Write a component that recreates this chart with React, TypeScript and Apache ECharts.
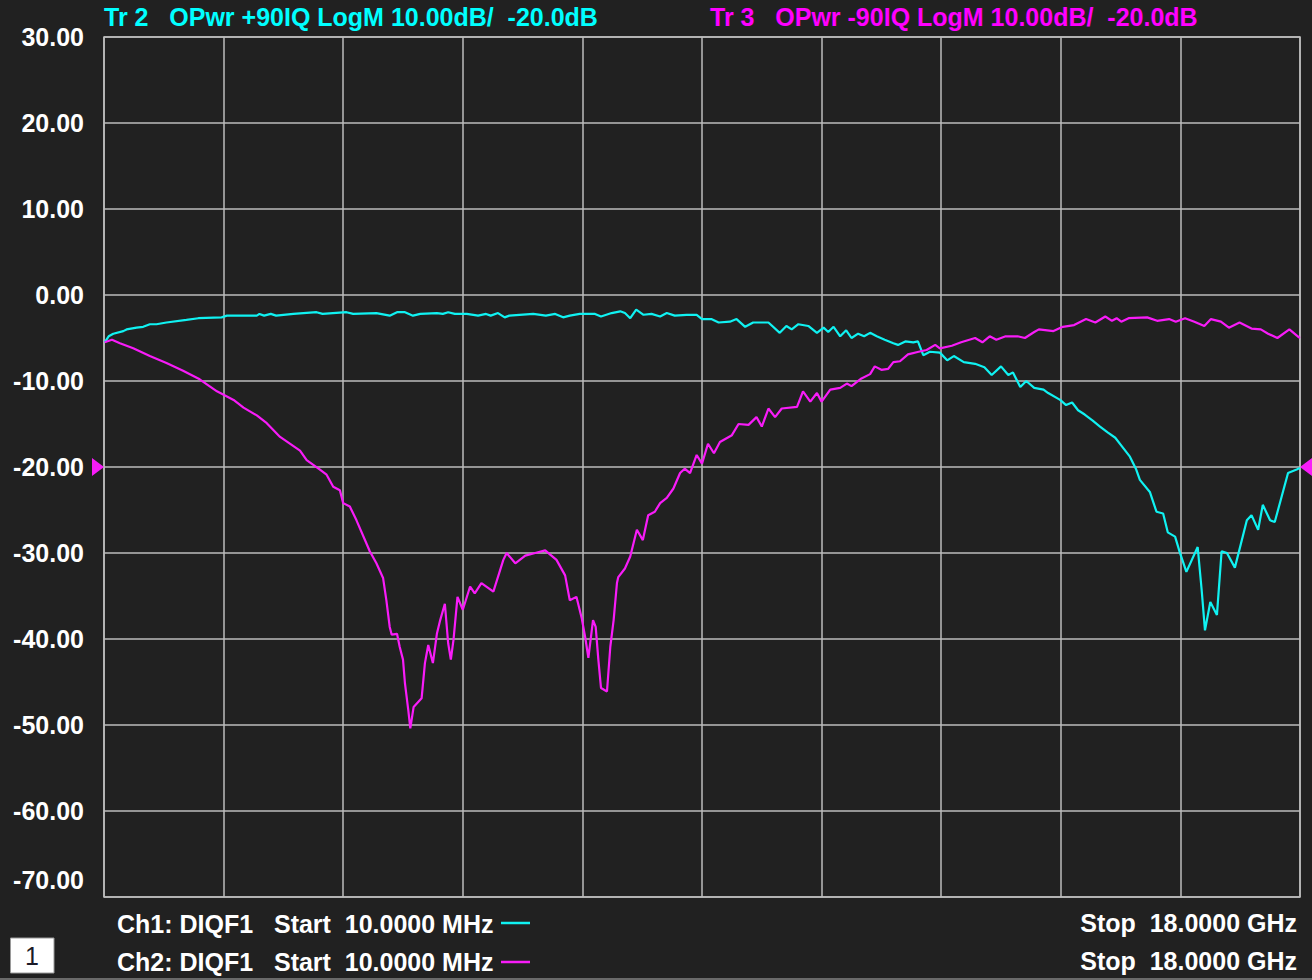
import React, { useEffect, useRef } from "react";
import * as echarts from "echarts";

// Sweep: 10 MHz .. 18 GHz, 10 dB/div, reference -20 dB
const X_MIN_GHZ = 0;
const X_MAX_GHZ = 18;
const X_DIV_GHZ = 1.8;
const Y_MIN_DB = -70;
const Y_MAX_DB = 30;
const Y_DIV_DB = 10;
const REF_LEVEL_DB = -20;

const TITLE_TR2 = "Tr 2   OPwr +90IQ LogM 10.00dB/  -20.0dB";
const TITLE_TR3 = "Tr 3   OPwr -90IQ LogM 10.00dB/  -20.0dB";
const FOOTER_CH1_START = "Ch1: DIQF1   Start  10.0000 MHz";
const FOOTER_CH2_START = "Ch2: DIQF1   Start  10.0000 MHz";
const FOOTER_STOP = "Stop  18.0000 GHz";
const WINDOW_NUMBER = "1";

// Trace 2 (OPwr +90IQ)
const TR2_FREQ_GHZ = [
  0.01, 0.07, 0.14, 0.29, 0.34, 0.49, 0.59, 0.69, 0.79, 0.94,
  1.24, 1.42, 1.77, 1.85, 2.30, 2.34, 2.41, 2.51, 2.59, 2.85,
  3.20, 3.29, 3.65, 3.75, 4.10, 4.30, 4.41, 4.53, 4.65, 4.76,
  5.01, 5.10, 5.18, 5.28, 5.46, 5.63, 5.75, 5.82, 5.93, 6.03,
  6.10, 6.46, 6.65, 6.79, 6.91, 7.01, 7.16, 7.39, 7.48, 7.64,
  7.77, 7.84, 7.92, 8.01, 8.12, 8.24, 8.37, 8.47, 8.59, 8.77,
  8.92, 9.00, 9.14, 9.25, 9.42, 9.52, 9.65, 9.77, 10.00, 10.17,
  10.27, 10.35, 10.45, 10.60, 10.73, 10.83, 10.90, 10.98, 11.08, 11.17,
  11.25, 11.35, 11.44, 11.53, 11.63, 11.75, 11.88, 11.95, 12.06, 12.18,
  12.25, 12.33, 12.43, 12.58, 12.69, 12.79, 12.94, 13.11, 13.25, 13.36,
  13.50, 13.61, 13.68, 13.79, 13.88, 14.00, 14.14, 14.21, 14.39, 14.48,
  14.57, 14.66, 14.76, 14.88, 14.99, 15.11, 15.22, 15.32, 15.44, 15.53,
  15.59, 15.74, 15.84, 15.94, 16.01, 16.12, 16.19, 16.29, 16.46, 16.52,
  16.57, 16.65, 16.75, 16.82, 16.90, 17.02, 17.20, 17.27, 17.37, 17.44,
  17.55, 17.62, 17.82, 17.95, 18.00,
];
const TR2_DB = [
  -5.5, -4.8, -4.5, -4.2, -4.0, -3.8, -3.7, -3.4, -3.4, -3.2,
  -2.9, -2.7, -2.6, -2.4, -2.4, -2.2, -2.4, -2.2, -2.4, -2.2,
  -2.0, -2.2, -2.0, -2.2, -2.1, -2.4, -2.0, -2.0, -2.4, -2.2,
  -2.1, -2.2, -2.0, -2.2, -2.2, -2.4, -2.2, -2.4, -2.1, -2.6,
  -2.4, -2.2, -2.4, -2.2, -2.6, -2.4, -2.2, -2.2, -2.5, -2.1,
  -1.9, -2.1, -2.7, -1.7, -2.3, -2.2, -2.5, -2.1, -2.4, -2.3,
  -2.3, -2.8, -2.8, -3.2, -3.1, -2.8, -3.7, -3.2, -3.2, -4.4,
  -3.6, -4.0, -3.4, -3.6, -4.4, -3.8, -4.3, -3.7, -4.8, -4.1,
  -5.0, -4.5, -4.8, -4.4, -4.8, -5.2, -5.6, -5.8, -5.4, -5.5,
  -5.4, -7.0, -6.6, -6.7, -7.6, -7.1, -7.8, -8.0, -8.4, -9.3,
  -8.3, -9.3, -9.0, -10.7, -10.0, -10.8, -11.0, -11.4, -12.2, -12.8,
  -12.5, -13.4, -13.9, -14.6, -15.3, -16.0, -16.6, -17.6, -18.8, -20.2,
  -21.5, -22.9, -25.2, -25.4, -27.6, -28.1, -29.9, -32.2, -29.3, -34.3,
  -39.0, -35.7, -37.2, -29.8, -30.0, -31.7, -26.2, -25.6, -27.3, -24.4,
  -26.2, -26.4, -20.7, -20.3, -20.1,
];

// Trace 3 (OPwr -90IQ)
const TR3_FREQ_GHZ = [
  0.01, 0.12, 0.24, 0.44, 0.69, 0.94, 1.19, 1.44, 1.70, 1.95,
  2.10, 2.30, 2.45, 2.65, 2.95, 3.05, 3.25, 3.35, 3.45, 3.55,
  3.60, 3.70, 3.80, 3.95, 4.00, 4.10, 4.20, 4.25, 4.30, 4.33,
  4.41, 4.45, 4.50, 4.53, 4.58, 4.61, 4.66, 4.78, 4.83, 4.88,
  4.95, 5.01, 5.06, 5.13, 5.18, 5.22, 5.26, 5.32, 5.40, 5.51,
  5.58, 5.68, 5.86, 6.01, 6.06, 6.19, 6.34, 6.49, 6.64, 6.81,
  6.94, 7.01, 7.11, 7.19, 7.24, 7.29, 7.36, 7.40, 7.44, 7.48,
  7.57, 7.62, 7.67, 7.72, 7.74, 7.84, 7.92, 8.02, 8.11, 8.19,
  8.29, 8.37, 8.47, 8.57, 8.67, 8.74, 8.82, 8.92, 9.00, 9.09,
  9.18, 9.27, 9.45, 9.55, 9.70, 9.82, 9.90, 10.00, 10.10, 10.20,
  10.43, 10.52, 10.63, 10.73, 10.80, 10.93, 11.08, 11.18, 11.25, 11.40,
  11.53, 11.60, 11.70, 11.80, 11.88, 11.98, 12.10, 12.26, 12.38, 12.51,
  12.58, 12.76, 12.90, 13.11, 13.22, 13.33, 13.43, 13.57, 13.75, 13.86,
  14.00, 14.07, 14.29, 14.43, 14.60, 14.78, 14.92, 15.07, 15.17, 15.24,
  15.31, 15.42, 15.70, 15.85, 16.03, 16.13, 16.27, 16.41, 16.56, 16.66,
  16.81, 16.93, 17.09, 17.27, 17.41, 17.52, 17.66, 17.84, 17.98, 18.00,
];
const TR3_DB = [
  -5.5, -5.2, -5.6, -6.2, -7.1, -7.9, -8.8, -9.8, -11.2, -12.2,
  -13.1, -14.0, -14.9, -16.5, -18.1, -19.2, -20.3, -20.9, -22.3, -22.7,
  -24.2, -24.6, -26.2, -28.9, -29.8, -31.2, -32.9, -35.5, -38.6, -39.5,
  -39.4, -40.9, -42.4, -45.2, -48.3, -50.4, -47.9, -46.9, -42.8, -40.7,
  -42.8, -39.4, -37.8, -35.9, -40.5, -42.4, -40.1, -35.1, -36.6, -33.9,
  -34.7, -33.5, -34.5, -30.8, -30.0, -31.2, -30.3, -30.0, -29.7, -30.8,
  -32.6, -35.5, -35.1, -37.6, -39.7, -42.2, -37.8, -38.6, -42.4, -45.7,
  -46.1, -40.9, -37.8, -33.5, -32.8, -31.8, -30.4, -27.3, -28.5, -25.6,
  -25.2, -24.2, -23.6, -22.5, -20.7, -20.2, -20.7, -18.6, -19.6, -17.3,
  -18.4, -17.1, -16.3, -15.0, -15.1, -14.2, -15.3, -13.2, -14.2, -13.2,
  -13.0, -11.2, -12.4, -11.4, -12.4, -11.0, -10.8, -10.3, -10.6, -9.7,
  -9.2, -8.3, -8.7, -8.6, -7.8, -7.7, -6.9, -6.6, -6.4, -5.8,
  -6.2, -5.9, -5.5, -5.0, -5.5, -4.8, -5.2, -4.8, -4.8, -5.0,
  -4.3, -4.0, -4.2, -3.7, -3.5, -2.8, -3.2, -2.5, -3.0, -2.7,
  -3.1, -2.7, -2.6, -3.0, -2.8, -3.1, -2.7, -3.1, -3.6, -2.8,
  -3.1, -3.8, -3.2, -3.9, -4.0, -4.5, -5.0, -4.0, -4.9, -5.0,
];

const BG = "#212121";
const GRID_COLOR = "#bdbdbd";
const CYAN = "#10f2f2";
const MAGENTA = "#f81cf8";
const FONT = '"Liberation Sans", Arial, sans-serif';
const WEIGHT = "bold";

const toPairs = (xs: number[], ys: number[]) => xs.map((x, i) => [x, ys[i]]);

export default function App() {
  const ref = useRef<HTMLDivElement>(null);

  useEffect(() => {
    if (!ref.current) return;
    const chart = echarts.init(ref.current, undefined, { renderer: "svg" });

    const txt = (
      x: number,
      y: number,
      text: string,
      fill: string,
      size: number,
      align: "left" | "right" | "center" = "left",
      weight: string = WEIGHT
    ) => ({
      type: "text",
      x,
      y,
      silent: true,
      style: {
        text,
        fill,
        fontSize: size,
        fontFamily: FONT,
        fontWeight: weight,
        align,
        verticalAlign: "middle",
      },
    });

    chart.setOption({
      animation: false,
      backgroundColor: BG,
      grid: {
        left: 104,
        right: 12,
        top: 37,
        bottom: 83,
        show: true,
        borderColor: GRID_COLOR,
        borderWidth: 1.5,
        containLabel: false,
      },
      xAxis: {
        type: "value",
        min: X_MIN_GHZ,
        max: X_MAX_GHZ,
        interval: X_DIV_GHZ,
        axisLine: { show: false },
        axisTick: { show: false },
        axisLabel: { show: false },
        splitLine: { show: true, lineStyle: { color: GRID_COLOR, width: 1.5 } },
      },
      yAxis: {
        type: "value",
        min: Y_MIN_DB,
        max: Y_MAX_DB,
        interval: Y_DIV_DB,
        axisLine: { show: false },
        axisTick: { show: false },
        splitLine: { show: true, lineStyle: { color: GRID_COLOR, width: 1.5 } },
        axisLabel: {
          color: "#ffffff",
          fontSize: 25,
          fontFamily: FONT,
          fontWeight: WEIGHT,
          margin: 20,
          formatter: (v: number) =>
            v === Y_MIN_DB ? `{low|${v.toFixed(2)}}` : v.toFixed(2),
          rich: {
            low: {
              color: "#ffffff",
              fontSize: 25,
              fontFamily: FONT,
              fontWeight: WEIGHT,
              padding: [0, 0, 34, 0],
            },
          },
        },
      },
      series: [
        {
          name: "Tr 2",
          type: "line",
          data: toPairs(TR2_FREQ_GHZ, TR2_DB),
          showSymbol: false,
          symbol: "none",
          lineStyle: { color: CYAN, width: 2.2 },
          z: 3,
        },
        {
          name: "Tr 3",
          type: "line",
          data: toPairs(TR3_FREQ_GHZ, TR3_DB),
          showSymbol: false,
          symbol: "none",
          lineStyle: { color: MAGENTA, width: 2.2 },
          z: 4,
          markPoint: {
            silent: true,
            label: { show: false },
            itemStyle: { color: MAGENTA },
            data: [
              {
                coord: [X_MIN_GHZ, REF_LEVEL_DB],
                symbol: "triangle",
                symbolSize: [18, 12],
                symbolRotate: -90,
                symbolOffset: [-6, 0],
              },
              {
                coord: [X_MAX_GHZ, REF_LEVEL_DB],
                symbol: "triangle",
                symbolSize: [18, 12],
                symbolRotate: 90,
                symbolOffset: [6, 0],
              },
            ],
          },
        },
      ],
      graphic: [
        txt(104, 17, TITLE_TR2, "#00ffff", 25),
        txt(710, 17, TITLE_TR3, "#ff00ff", 25),
        txt(117, 924, FOOTER_CH1_START, "#ffffff", 25),
        txt(117, 962, FOOTER_CH2_START, "#ffffff", 25),
        {
          type: "line",
          silent: true,
          shape: { x1: 501, y1: 923, x2: 530, y2: 923 },
          style: { stroke: CYAN, lineWidth: 2.5 },
        },
        {
          type: "line",
          silent: true,
          shape: { x1: 501, y1: 962, x2: 530, y2: 962 },
          style: { stroke: MAGENTA, lineWidth: 2.5 },
        },
        txt(1297, 923, FOOTER_STOP, "#ffffff", 25, "right"),
        txt(1297, 961, FOOTER_STOP, "#ffffff", 25, "right"),
        {
          type: "rect",
          silent: true,
          shape: { x: 10.5, y: 938, width: 43.5, height: 35 },
          style: { fill: "#ffffff", stroke: "#9a9a9a", lineWidth: 1 },
        },
        txt(32, 956, WINDOW_NUMBER, "#1a1a28", 25, "center", "normal"),
        {
          type: "rect",
          silent: true,
          shape: { x: 0, y: 978, width: 1312, height: 2 },
          style: { fill: "#6a6a6a" },
        },
      ],
    });

    return () => chart.dispose();
  }, []);

  return (
    <div
      ref={ref}
      style={{ position: "fixed", left: 0, top: 0, width: 1312, height: 980 }}
    />
  );
}
